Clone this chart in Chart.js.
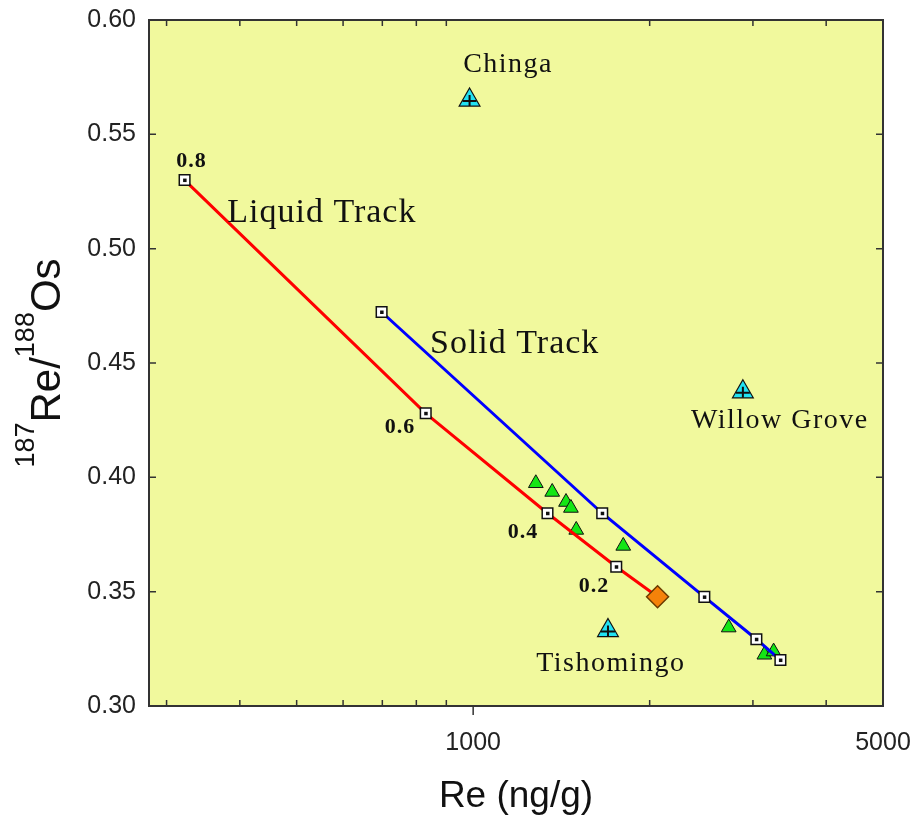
<!DOCTYPE html>
<html>
<head>
<meta charset="utf-8">
<script src="https://cdn.jsdelivr.net/npm/chart.js@4.4.1/dist/chart.umd.min.js"></script>
<style>
  html, body { margin: 0; padding: 0; background: #fff; }
</style>
</head>
<body>
<canvas id="reChart" width="921" height="826"></canvas>
<script>
/* Datos: Re (ng/g) vs 187Re/188Os */

// Liquid track (rojo), el último punto es el rombo naranja
const liquidRe = [322, 830, 1339, 1754, 2063];
const liquidRatio = [0.530, 0.428, 0.3843, 0.3609, 0.3478];
const liquidFractions = ['0.8', '0.6', '0.4', '0.2'];
const fractionRe = [331, 750, 1216, 1607];
const fractionRatio = [0.5356, 0.4195, 0.3733, 0.350];

// Solid track (azul)
const solidRe = [698, 1660, 2479, 3041, 3342];
const solidRatio = [0.4723, 0.3843, 0.3477, 0.3292, 0.3201];

// Muestras (triángulos verdes)
const sampleRe = [1279, 1364, 1440, 1468, 1499, 1803, 2728, 3138, 3254];
const sampleRatio = [0.3974, 0.3936, 0.3892, 0.3866, 0.3770, 0.3700, 0.3343, 0.3224, 0.3238];

// Localidades (triángulos cian)
const siteNames = ['Chinga', 'Willow Grove', 'Tishomingo'];
const siteRe = [986, 2884, 1698];
const siteRatio = [0.5650, 0.4374, 0.3330];
const siteLabelRe = [1147, 3334, 1717];
const siteLabelRatio = [0.5773, 0.4214, 0.3153];

// Nombres de los tracks
const trackNames = ['Liquid Track', 'Solid Track'];
const trackLabelRe = [552, 1177];
const trackLabelRatio = [0.5117, 0.4545];

// Ejes
const xTickValues = [300, 400, 500, 600, 700, 800, 900, 1000, 2000, 3000, 4000, 5000];
const xTickLabels = [1000, 5000];
const yMin = 0.30;
const yMax = 0.60;
const yStep = 0.05;

const toPoints = (xs, ys) => xs.map((x, i) => ({x: x, y: ys[i]}));

const sansFont = '"Liberation Sans", Arial, sans-serif';
const serifFont = '"Liberation Serif", "Times New Roman", serif';

/* Plugin: fondo, marco, ticks interiores, textos */

const plotDecor = {
    id: 'plotDecor',
    beforeDraw(chart) {
        const {ctx, chartArea: a} = chart;
        ctx.save();
        ctx.fillStyle = '#F1F99D';
        ctx.fillRect(a.left, a.top, a.right - a.left, a.bottom - a.top);
        ctx.restore();
    },
    afterDatasetsDraw(chart) {
        const ctx = chart.ctx;
        ctx.save();
        // punto negro dentro de los cuadrados
        [0, 1].forEach(idx => {
            const meta = chart.getDatasetMeta(idx);
            meta.data.forEach((pt, i) => {
                if (idx === 0 && i === liquidRe.length - 1) return;
                ctx.fillStyle = '#111';
                ctx.fillRect(pt.x - 1.5, pt.y - 1.5, 3.5, 3.5);
            });
        });
        // cruz dentro de los triángulos cian
        chart.getDatasetMeta(3).data.forEach(pt => {
            ctx.strokeStyle = '#111';
            ctx.lineWidth = 2;
            ctx.beginPath();
            ctx.moveTo(pt.x, pt.y - 5);
            ctx.lineTo(pt.x, pt.y + 6);
            ctx.moveTo(pt.x - 7, pt.y + 1);
            ctx.lineTo(pt.x + 7, pt.y + 1);
            ctx.stroke();
        });
        ctx.restore();
    },
    afterDraw(chart) {
        const {ctx, chartArea: a} = chart;
        const xs = chart.scales.x;
        const ys = chart.scales.y;
        ctx.save();

        // marco
        ctx.strokeStyle = '#333';
        ctx.lineWidth = 2;
        ctx.strokeRect(a.left, a.top, a.right - a.left, a.bottom - a.top);

        // ticks
        ctx.lineWidth = 1.5;
        ctx.beginPath();
        xs.ticks.forEach(t => {
            if (t.value <= xs.min || t.value >= xs.max) return;
            const px = xs.getPixelForValue(t.value);
            if (xTickLabels.includes(t.value)) {
                ctx.moveTo(px, a.bottom);
                ctx.lineTo(px, a.bottom + 9);
            } else {
                ctx.moveTo(px, a.bottom);
                ctx.lineTo(px, a.bottom - 6);
                ctx.moveTo(px, a.top);
                ctx.lineTo(px, a.top + 6);
            }
        });
        ys.ticks.forEach(t => {
            if (t.value <= ys.min + 1e-9 || t.value >= ys.max - 1e-9) return;
            const py = ys.getPixelForValue(t.value);
            ctx.moveTo(a.left, py);
            ctx.lineTo(a.left + 7, py);
            ctx.moveTo(a.right, py);
            ctx.lineTo(a.right - 7, py);
        });
        ctx.stroke();

        // textos dentro del gráfico
        ctx.fillStyle = '#111';
        ctx.textAlign = 'center';
        ctx.textBaseline = 'alphabetic';
        ctx.letterSpacing = '1px';

        ctx.font = '34px ' + serifFont;
        trackNames.forEach((name, i) => {
            ctx.fillText(name, xs.getPixelForValue(trackLabelRe[i]), ys.getPixelForValue(trackLabelRatio[i]));
        });

        ctx.font = '28px ' + serifFont;
        ctx.letterSpacing = '1.5px';
        siteNames.forEach((name, i) => {
            ctx.fillText(name, xs.getPixelForValue(siteLabelRe[i]), ys.getPixelForValue(siteLabelRatio[i]));
        });

        ctx.font = 'bold 22px ' + serifFont;
        ctx.letterSpacing = '1px';
        liquidFractions.forEach((f, i) => {
            ctx.fillText(f, xs.getPixelForValue(fractionRe[i]), ys.getPixelForValue(fractionRatio[i]));
        });
        ctx.letterSpacing = '0px';

        // título eje Y con superíndices
        const mainFont = '42px ' + sansFont;
        const supFont = '27px ' + sansFont;
        const parts = [['187', true], ['Re/', false], ['188', true], ['Os', false]];
        let total = 0;
        parts.forEach(p => {
            ctx.font = p[1] ? supFont : mainFont;
            total += ctx.measureText(p[0]).width;
        });
        ctx.translate(60, (a.top + a.bottom) / 2);
        ctx.rotate(-Math.PI / 2);
        ctx.textAlign = 'left';
        let cx = -total / 2;
        parts.forEach(p => {
            ctx.font = p[1] ? supFont : mainFont;
            ctx.fillText(p[0], cx, p[1] ? -26 : 0);
            cx += ctx.measureText(p[0]).width;
        });

        ctx.restore();
    }
};

/* Configuración */

const config = {
    type: 'scatter',
    data: {
        datasets: [
            {
                label: 'Liquid Track',
                data: toPoints(liquidRe, liquidRatio),
                showLine: true,
                borderColor: '#FF0000',
                borderWidth: 3,
                pointStyle: liquidRe.map((_, i) => i === liquidRe.length - 1 ? 'rectRot' : 'rect'),
                pointRadius: liquidRe.map((_, i) => i === liquidRe.length - 1 ? 11 : 7.5),
                pointBackgroundColor: liquidRe.map((_, i) => i === liquidRe.length - 1 ? '#F5820A' : '#FFFFFF'),
                pointBorderColor: liquidRe.map((_, i) => i === liquidRe.length - 1 ? '#6b3a00' : '#111'),
                pointBorderWidth: 1.5
            },
            {
                label: 'Solid Track',
                data: toPoints(solidRe, solidRatio),
                showLine: true,
                borderColor: '#0000FF',
                borderWidth: 3,
                pointStyle: 'rect',
                pointRadius: 7.5,
                pointBackgroundColor: '#FFFFFF',
                pointBorderColor: '#111',
                pointBorderWidth: 1.5
            },
            {
                label: 'Samples',
                data: toPoints(sampleRe, sampleRatio),
                pointStyle: 'triangle',
                pointRadius: 8.5,
                pointBackgroundColor: '#14E614',
                pointBorderColor: '#111',
                pointBorderWidth: 1
            },
            {
                label: 'Sites',
                data: toPoints(siteRe, siteRatio),
                pointStyle: 'triangle',
                pointRadius: 12,
                pointBackgroundColor: '#22E2F2',
                pointBorderColor: '#111',
                pointBorderWidth: 1.2
            }
        ]
    },
    options: {
        responsive: false,
        animation: false,
        events: [],
        layout: {padding: {left: 0, top: 20, right: 38, bottom: 0}},
        plugins: {
            legend: {display: false},
            tooltip: {enabled: false}
        },
        scales: {
            x: {
                type: 'logarithmic',
                position: 'bottom',
                min: 280,
                max: 5000,
                grid: {display: false, drawTicks: false},
                border: {display: false},
                afterBuildTicks: (scale) => {
                    scale.ticks = xTickValues.map(v => ({value: v}));
                },
                afterFit: (scale) => {
                    scale.height = 120;
                    scale.paddingLeft = 0;
                    scale.paddingRight = 0;
                },
                ticks: {
                    autoSkip: false,
                    maxRotation: 0,
                    padding: 22,
                    color: '#222',
                    font: {family: sansFont, size: 25},
                    callback: (value) => xTickLabels.includes(value) ? String(value) : ''
                },
                title: {
                    display: true,
                    text: 'Re (ng/g)',
                    color: '#111',
                    font: {family: sansFont, size: 37},
                    padding: {top: 0, bottom: 7}
                }
            },
            y: {
                type: 'linear',
                position: 'left',
                min: yMin,
                max: yMax,
                grid: {display: false, drawTicks: false},
                border: {display: false},
                afterFit: (scale) => {
                    scale.width = 149;
                    scale.paddingTop = 0;
                    scale.paddingBottom = 0;
                },
                ticks: {
                    stepSize: yStep,
                    padding: 13,
                    color: '#222',
                    font: {family: sansFont, size: 25},
                    callback: (value) => value.toFixed(2)
                }
            }
        }
    },
    plugins: [plotDecor]
};

const reChart = new Chart(document.getElementById('reChart'), config);
</script>
</body>
</html>
